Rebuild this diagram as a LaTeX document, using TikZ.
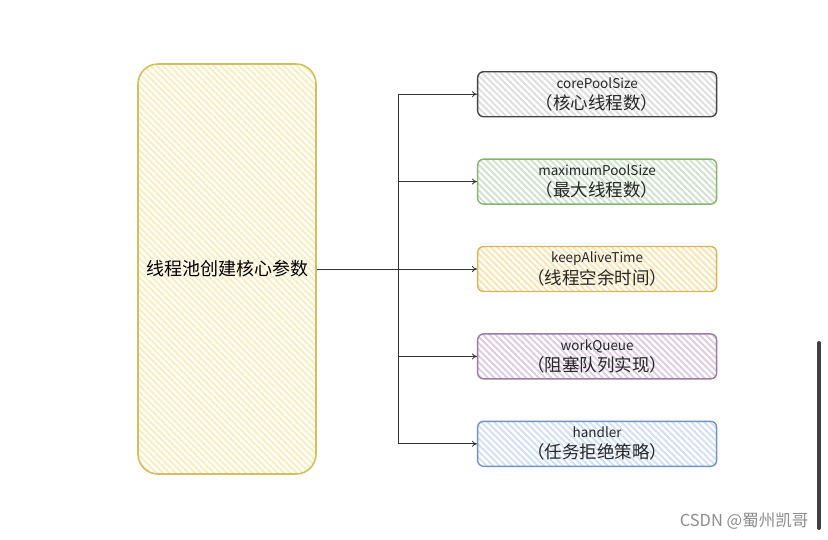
\documentclass[tikz,border=0pt]{standalone}
\usepackage{fontspec}
\setmainfont{Noto Sans CJK SC}
\usetikzlibrary{positioning, patterns.meta, arrows.meta}

\definecolor{yelLine}{HTML}{D4BE62}
\definecolor{yelFill}{HTML}{FAEDBE}
\definecolor{grayLine}{HTML}{444444}
\definecolor{grayFill}{HTML}{DEDEDE}
\definecolor{greenLine}{HTML}{86B46C}
\definecolor{greenFill}{HTML}{CDE3CB}
\definecolor{orLine}{HTML}{D8B454}
\definecolor{orFill}{HTML}{FAE4B0}
\definecolor{purLine}{HTML}{9A7BAA}
\definecolor{purFill}{HTML}{DCCDE3}
\definecolor{bluLine}{HTML}{7192C2}
\definecolor{bluFill}{HTML}{D0E0F7}
\newcommand{\cnline}{\fontsize{17.5}{21}\selectfont}

\begin{document}
\begin{tikzpicture}[
    hatch/.style 2 args={draw=#1, preaction={fill=white},
        pattern={Lines[angle=-45, distance=4.5pt, line width=1.9pt]}, pattern color=#2},
    core/.style={rectangle, rounded corners=20pt, line width=1.6pt, minimum width=178pt,
        minimum height=410pt, font=\fontsize{18}{21}\selectfont},
    param/.style={rectangle, rounded corners=6pt, line width=1.4pt, minimum width=239pt,
        minimum height=45pt, align=center, text=black!85, font=\fontsize{13.5}{18}\selectfont},
    link/.style={-{To[length=5pt, width=6pt]}, draw=black!80, line width=0.8pt},
]
    \useasboundingbox (0pt,0pt) rectangle (828pt,-539pt);

    % Nodes
    \node[core, hatch={yelLine}{yelFill}] (main) at (227pt,-269pt) {线程池创建核心参数};
    \node[param, hatch={orLine}{orFill}] (alive) [right=160pt of main]
        {keepAliveTime\\[3pt]{\cnline（线程空余时间）}};
    \node[param, hatch={greenLine}{greenFill}] (max) [above=41pt of alive]
        {maximumPoolSize\\[3pt]{\cnline（最大线程数）}};
    \node[param, hatch={grayLine}{grayFill}] (corePool) [above=41pt of max]
        {corePoolSize\\[3pt]{\cnline（核心线程数）}};
    \node[param, hatch={purLine}{purFill}] (queue) [below=41pt of alive]
        {workQueue\\[3pt]{\cnline（阻塞队列实现）}};
    \node[param, hatch={bluLine}{bluFill}] (handler) [below=41pt of queue]
        {handler\\[3pt]{\cnline（任务拒绝策略）}};
    \coordinate [right=81pt of main.east] (split);

    % Lines
    \draw[link] (main.east) -- (alive.west);
    \draw[draw=black!80, line width=0.8pt] (split |- corePool.west) -- (split |- handler.west);
    \foreach \n in {corePool, max, queue, handler}
        \draw[link] (split |- \n.west) -- (\n.west);

    % Watermark
    \node[text=black!45, font=\fontsize{16.5}{18}\selectfont] (mark) at (744pt,-521pt) {CSDN @蜀州凯哥};
    \draw[line width=4pt, line cap=round, black!75] (819pt,-343pt) -- (819pt,-528pt);
\end{tikzpicture}
\end{document}
